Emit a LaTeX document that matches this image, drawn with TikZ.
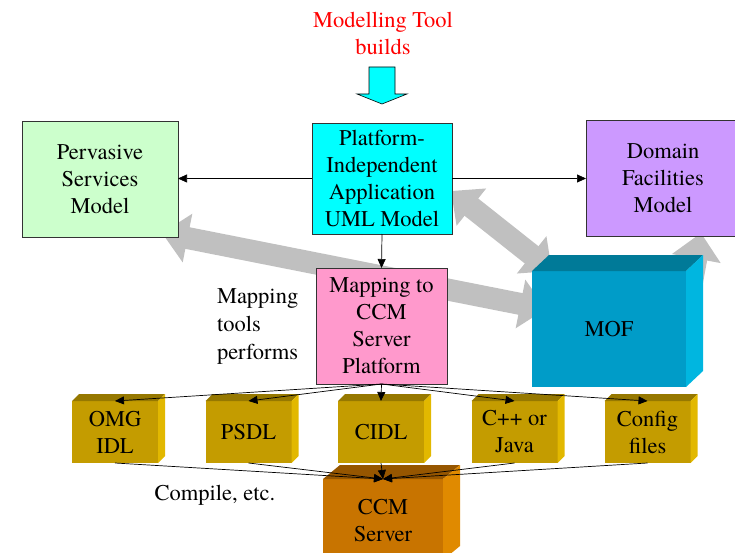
\documentclass[tikz,border=0pt]{standalone}
\usepackage{fontspec}
\setmainfont{texgyretermes}[Extension=.otf, UprightFont=*-regular, BoldFont=*-bold, ItalicFont=*-italic, BoldItalicFont=*-bolditalic]
\usetikzlibrary{arrows.meta}
\definecolor{pgreen}{HTML}{CCFFCC}
\definecolor{pcyan}{HTML}{00FFFF}
\definecolor{ppurple}{HTML}{CC99FF}
\definecolor{ppink}{HTML}{FF99CC}
\definecolor{mofF}{HTML}{009CC8}
\definecolor{mofT}{HTML}{007A98}
\definecolor{mofS}{HTML}{00B6E0}
\definecolor{yF}{HTML}{C49C00}
\definecolor{yT}{HTML}{967800}
\definecolor{yS}{HTML}{E2B800}
\definecolor{cF}{HTML}{C87400}
\definecolor{cT}{HTML}{965600}
\definecolor{cS}{HTML}{E08A00}
\definecolor{bandgrey}{HTML}{C0C0C0}
\begin{document}
\begin{tikzpicture}[x=1pt,y=-1pt,
  every node/.style={font=\fontsize{22.5}{27}\selectfont, align=center, inner sep=0pt, outer sep=0pt},
  modelbox/.style={draw=black!80, line width=0.8pt},
  conn/.style={draw=black, line width=0.7pt, -{Triangle[length=9pt,width=8pt]}},
  band/.style={draw=bandgrey, line width=22pt},
  ybox/.style={fill=yF, minimum width=86pt, minimum height=62pt}
]
\useasboundingbox (0,0) rectangle (735,553);

% grey block arrows (behind boxes)
\draw[band, {Triangle[length=26pt,width=48pt]}-{Triangle[length=26pt,width=48pt]}] (162,233) -- (546,309);
\draw[band, {Triangle[length=26pt,width=46pt]}-{Triangle[length=26pt,width=46pt]}] (451,191) -- (552,271);
\draw[band, -{Triangle[length=26pt,width=48pt]}] (689,298) -- (701,233);

% title and cyan arrow
\node[text=red] (title) at (383,33) {Modelling Tool\\builds};
\draw[fill=pcyan, draw=black, line width=0.6pt] (369,67) -- (395,67) -- (395,94) -- (407,94) -- (382,104) -- (357,94) -- (369,94) -- cycle;

% model boxes
\node[modelbox, fill=pgreen, minimum width=156pt, minimum height=116pt] (perv) at (100,179) {Pervasive\\Services\\Model};
\node[modelbox, fill=pcyan, minimum width=140pt, minimum height=111pt] (pim) at (382,178.5) {Platform-\\Independent\\Application\\UML Model};
\node[modelbox, fill=ppurple, minimum width=154pt, minimum height=116pt] (dom) at (663,178) {Domain\\Facilities\\Model};
\node[modelbox, fill=ppink, minimum width=131pt, minimum height=116pt] (map) at (381.5,326) {Mapping to\\CCM\\Server\\Platform};

% MOF cuboid
\node[fill=mofF, minimum width=154pt, minimum height=116pt] (mof) at (609,329) {MOF};
\fill[mofT] (mof.north west) -- ++(17,-16) -- ++(154,0) -- (mof.north east) -- cycle;
\fill[mofS] (mof.north east) -- ++(17,-16) -- ++(0,116) -- (mof.south east) -- cycle;

% yellow cuboids
\foreach \n/\x/\t in {omg/115/{OMG\\IDL}, psdl/248.5/PSDL, cidl/381/CIDL, cpp/514.5/{C++ or\\Java}, cfg/647.5/{Config\\files}}{
  \node[ybox] (\n) at (\x,432) {\t};
  \fill[yT] (\n.north west) -- ++(7,-7) -- ++(86,0) -- (\n.north east) -- cycle;
  \fill[yS] (\n.north east) -- ++(7,-7) -- ++(0,62) -- (\n.south east) -- cycle;
}

% CCM server cuboid
\node[fill=cF, minimum width=120pt, minimum height=81pt] (ccm) at (383,519.5) {};
\node (ccmtext) at (383,521) {CCM\\Server};
\fill[cT] (ccm.north west) -- ++(17,-14) -- ++(120,0) -- (ccm.north east) -- cycle;
\fill[cS] (ccm.north east) -- ++(17,-14) -- ++(0,81) -- (ccm.south east) -- cycle;

% labels
\node[anchor=west, align=left, font=\fontsize{22.5}{28}\selectfont] (mtp) at (217,326) {Mapping\\tools\\performs};
\node (comp) at (215,495) {Compile, etc.};

% black connectors
\draw[conn] (pim.west) -- (pim.west -| perv.east);
\draw[conn] (pim.east) -- (pim.east -| dom.west);
\draw[conn] (pim.south) -- (map.north);
\foreach \n in {omg,psdl,cidl,cpp,cfg}{
  \draw[conn] (map.south) -- (\n.north);
  \draw[conn] (\n.south) -- (ccm.north);
}
\end{tikzpicture}
\end{document}
